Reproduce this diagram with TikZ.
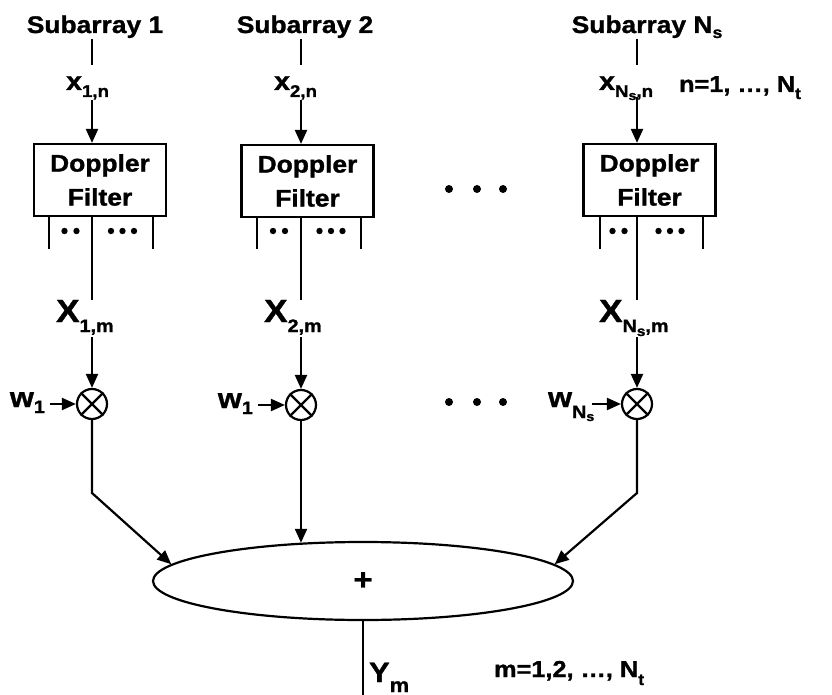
\documentclass[tikz,border=0pt]{standalone}
\usepackage{fontspec}
\setmainfont{Liberation Sans}[FakeStretch=1.1, BoldFeatures={FakeBold=1.2}]
\usetikzlibrary{arrows.meta,shapes.geometric}
\newcommand\fs[2]{{\fontsize{#1}{#1}\selectfont #2}}
\newcommand\sbx[3]{\raisebox{-#1}{\fontsize{#2}{#2}\selectfont #3}}
\begin{document}
\begin{tikzpicture}[x=1pt,y=-1pt,
  line width=2.2pt,
  every node/.style={font=\bfseries, inner sep=0pt},
  arr/.style={-{Triangle[length=14pt,width=12pt]}},
  t24/.style={font=\bfseries\fontsize{24pt}{24pt}\selectfont},
  dfbox/.style={draw, minimum width=132pt, minimum height=72pt, align=center,
    font=\bfseries\fontsize{24pt}{34pt}\selectfont},
  mult/.style={draw, circle, minimum size=30pt}]
\useasboundingbox (0,0) rectangle (832,695);

% column guide coordinates
\coordinate (L1) at (92,0);
\coordinate (L2) at (301,0);
\coordinate (L3) at (637,0);

% ---------- column 1 ----------
\node[t24,anchor=base] (sub1) at (95,33) {Subarray 1};
\node[anchor=base west] (xa1) at (65,90) {\fs{26pt}{x}\sbx{7pt}{17pt}{1,n}};
\node[dfbox] (df1) at (100,180) {Doppler\\Filter};
\node[anchor=base west] (Xa1) at (55,322) {\fs{32pt}{X}\sbx{10pt}{18pt}{1,m}};
\node[mult] (m1) at (92,404) {};
\node[anchor=base east] (w1) at (46,407) {\fs{28pt}{w}\sbx{6pt}{18pt}{1}};

% ---------- column 2 ----------
\node[t24,anchor=base] (sub2) at (305,33) {Subarray 2};
\node[anchor=base west] (xa2) at (273,90) {\fs{26pt}{x}\sbx{7pt}{17pt}{2,n}};
\node[dfbox] (df2) at (307.5,181) {Doppler\\Filter};
\node[anchor=base west] (Xa2) at (263,322) {\fs{32pt}{X}\sbx{10pt}{18pt}{2,m}};
\node[mult] (m2) at (301,405) {};
\node[anchor=base east] (w2) at (254,408) {\fs{28pt}{w}\sbx{6pt}{18pt}{1}};

% ---------- column 3 ----------
\node[t24,anchor=base] (sub3) at (647,33) {Subarray N\sbx{5pt}{16pt}{s}};
\node[anchor=base west] (xa3) at (598,90) {\fs{26pt}{x}\sbx{7pt}{17pt}{N\sbx{3pt}{13pt}{s},n}};
\node[anchor=base west] (nrange) at (678,92) {\fs{23pt}{n=1,\ …,\ N}\sbx{7pt}{16pt}{t}};
\node[dfbox] (df3) at (649.5,180) {Doppler\\Filter};
\node[anchor=base west] (Xa3) at (598,322) {\fs{32pt}{X}\sbx{10pt}{18pt}{N\sbx{4pt}{14pt}{s},m}};
\node[mult] (m3) at (637,404) {};
\node[anchor=base west] (w3) at (547,407) {\fs{28pt}{w}\sbx{11pt}{18pt}{N\sbx{3pt}{13pt}{s}}};

% ---------- summer ----------
\node[draw, ellipse, minimum width=420pt, minimum height=78pt,
  font=\bfseries\fontsize{30pt}{30pt}\selectfont] (sum) at (363,581) {+};
\node[anchor=base west] (ym) at (368,682) {\fs{28pt}{Y}\sbx{10pt}{20pt}{m}};
\node[anchor=base west] (mrange) at (493,677) {\fs{23pt}{m=1,2,\ …,\ N}\sbx{8pt}{16pt}{t}};

% ---------- connector coordinates ----------
\coordinate (a1) at (92,65);  \coordinate (b1) at (92,100);
\coordinate (a2) at (301,65); \coordinate (b2) at (301,100);
\coordinate (a3) at (637,65); \coordinate (b3) at (637,97);
\coordinate (c1) at (92,300);  \coordinate (d1) at (92,337);
\coordinate (c2) at (301,300); \coordinate (d2) at (301,337);
\coordinate (c3) at (637,300); \coordinate (d3) at (637,337);
\coordinate (s1l) at (49,249);  \coordinate (s1r) at (153,249);
\coordinate (s2l) at (257,249); \coordinate (s2r) at (361,249);
\coordinate (s3l) at (600,249); \coordinate (s3r) at (703,249);
\coordinate (k1) at (92,493);
\coordinate (k3) at (637,493);
\coordinate (ws3) at (592,404);
\coordinate (yout) at (363,695);

% ---------- connectors ----------
\foreach \i in {1,2,3} {
  \draw (sub\i.south -| L\i) -- (a\i);
  \draw[arr] (b\i) -- (df\i.north -| L\i);
  \draw (df\i.south -| L\i) -- (c\i);
  \draw (df\i.south -| s\i l) -- (s\i l);
  \draw (df\i.south -| s\i r) -- (s\i r);
  \draw[arr] (d\i) -- (m\i.north);
  \draw (m\i.north east) -- (m\i.south west);
  \draw (m\i.north west) -- (m\i.south east);
}
\draw[arr] ([xshift=4pt]w1.east |- m1) -- (m1.west);
\draw[arr] ([xshift=4pt]w2.east |- m2) -- (m2.west);
\draw[arr] (ws3) -- (m3.west);

\draw[arr] (m1.south) -- (k1) -- (sum.175);
\draw[arr] (m2.south) -- (m2.south |- sum.149);
\draw[arr] (m3.south) -- (k3) -- (sum.5);
\draw (sum.south) -- (yout);

% ---------- dots ----------
\foreach \a/\b in {70.5/122.5, 279/331, 618.5/670} {
  \fill (\a-6,231) circle (3.2pt);
  \fill (\a+6,231) circle (3.2pt);
  \foreach \d in {-11.5,0,11.5} \fill (\b+\d,231) circle (3.2pt);
}
\foreach \x in {449,477,503} {
  \fill (\x,189) circle (4pt);
  \fill (\x,402) circle (4pt);
}
\end{tikzpicture}
\end{document}
